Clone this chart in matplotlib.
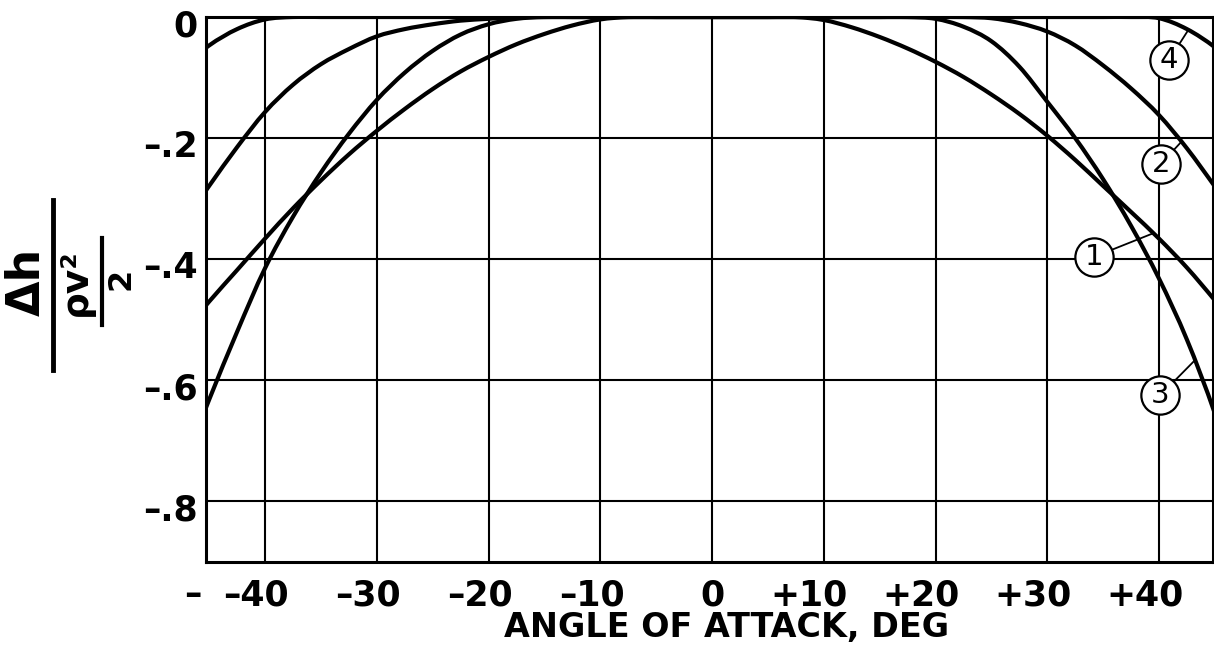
import matplotlib
matplotlib.use("Agg")
import numpy as np
import matplotlib.pyplot as plt
import matplotlib.transforms as mtransforms
from matplotlib.lines import Line2D
from matplotlib.path import Path
from matplotlib.patches import PathPatch

# ---------------- data ----------------
ANGLE = [-47.5, -45, -42.5, -40, -37.5, -35, -32.5, -30, -27.5, -25, -22.5, -20,
         -17.5, -15, -12.5, -10, -7.5, -5, -2.5, 0, 2.5, 5, 7.5, 10, 12.5, 15,
         17.5, 20, 22.5, 25, 27.5, 30, 32.5, 35, 37.5, 40, 42.5, 45, 47.5]

CURVE_1 = [-0.525, -0.470, -0.418, -0.366, -0.316, -0.270, -0.227, -0.188, -0.152,
           -0.119, -0.090, -0.066, -0.045, -0.028, -0.014, -0.004, 0.0, 0.0, 0.0,
           0.0, 0.0, 0.0, 0.0, -0.005, -0.017, -0.033, -0.052, -0.074, -0.099,
           -0.128, -0.160, -0.196, -0.236, -0.279, -0.322, -0.366, -0.414, -0.468,
           -0.525]

CURVE_2 = [-0.345, -0.279, -0.215, -0.157, -0.112, -0.078, -0.053, -0.032, -0.020,
           -0.012, -0.006, -0.003, 0.0, 0.0, 0.0, 0.0, 0.0, 0.0, 0.0, 0.0, 0.0,
           0.0, 0.0, 0.0, 0.0, 0.0, 0.0, 0.0, 0.0, -0.002, -0.010, -0.024, -0.047,
           -0.080, -0.118, -0.162, -0.217, -0.280, -0.345]

CURVE_3 = [-0.750, -0.632, -0.520, -0.415, -0.330, -0.257, -0.193, -0.137, -0.092,
           -0.056, -0.029, -0.012, -0.003, 0.0, 0.0, 0.0, 0.0, 0.0, 0.0, 0.0, 0.0,
           0.0, 0.0, 0.0, 0.0, 0.0, 0.0, -0.003, -0.016, -0.040, -0.082, -0.140,
           -0.200, -0.268, -0.345, -0.432, -0.533, -0.655, -0.800]

CURVE_4 = [-0.085, -0.047, -0.020, -0.004, 0.0, 0.0, 0.0, 0.0, 0.0, 0.0, 0.0, 0.0,
           0.0, 0.0, 0.0, 0.0, 0.0, 0.0, 0.0, 0.0, 0.0, 0.0, 0.0, 0.0, 0.0, 0.0,
           0.0, 0.0, 0.0, 0.0, 0.0, 0.0, 0.0, 0.0, 0.0, -0.002, -0.020, -0.050,
           -0.090]

CURVE_LABELS = ["1", "2", "3", "4"]

XTICKS = [-40, -30, -20, -10, 0, 10, 20, 30, 40]
XTICK_LABELS = ["\u201340", "\u201330", "\u201320", "\u201310", "0",
                "+10", "+20", "+30", "+40"]
YTICKS = [0, -0.2, -0.4, -0.6, -0.8]
YTICK_LABELS = ["0", "\u2013.2", "\u2013.4", "\u2013.6", "\u2013.8"]

XLABEL = "ANGLE OF ATTACK, DEG"


def smooth_path(xs, ys):
    """Smooth (Catmull-Rom -> cubic Bezier) path through the data points."""
    p = np.column_stack([xs, ys]).astype(float)
    ext = np.vstack([p[0], p, p[-1]])
    verts = [p[0]]
    codes = [Path.MOVETO]
    for i in range(len(p) - 1):
        p0, p1, p2, p3 = ext[i], ext[i + 1], ext[i + 2], ext[i + 3]
        c1 = p1 + (p2 - p0) / 6.0
        c2 = p2 - (p3 - p1) / 6.0
        verts += [c1, c2, p2]
        codes += [Path.CURVE4] * 3
    return Path(np.array(verts), codes)


# ---------------- figure ----------------
W, H = 1214, 657
fig = plt.figure(figsize=(W / 100, H / 100), dpi=100)
ax = fig.add_axes([206 / W, 1 - 562 / H, (1213 - 206) / W, (562 - 17) / H])
ax.set_xlim(-45.28, 44.83)
ax.set_ylim(-0.90, 0.0)

ax.set_xticks(XTICKS)
ax.set_yticks(YTICKS)
ax.set_yticklabels(YTICK_LABELS, fontsize=25, fontweight="bold")
ax.tick_params(length=0, labelbottom=False, pad=6)
for lbl in ax.get_yticklabels():
    lbl.set_transform(lbl.get_transform() +
                      mtransforms.ScaledTranslation(0, -4 / 72, fig.dpi_scale_trans))
ax.grid(True, color="black", lw=1.5)
ax.set_axisbelow(True)
for sp in ax.spines.values():
    sp.set_linewidth(2.2)

for vals in (CURVE_1, CURVE_2, CURVE_3, CURVE_4):
    patch = PathPatch(smooth_path(ANGLE, vals), facecolor="none",
                      edgecolor="black", lw=3.0, zorder=3, joinstyle="round")
    ax.add_patch(patch)

# curve labels: (circle centre, leader end on curve)
label_pos = {
    "1": ((34.2, -0.396), (39.5, -0.357)),
    "2": ((40.15, -0.243), (42.0, -0.206)),
    "3": ((40.1, -0.625), (43.2, -0.567)),
    "4": ((40.9, -0.071), (42.6, -0.022)),
}
for name in CURVE_LABELS:
    (cx, cy), (ex, ey) = label_pos[name]
    ax.plot([cx, ex], [cy, ey], color="black", lw=1.3, zorder=4)
    ax.scatter([cx], [cy], s=760, facecolor="white", edgecolor="black",
               linewidth=1.6, zorder=5)
    ax.text(cx, cy, name, ha="center", va="center", fontsize=21, zorder=6)

# x tick labels: digits centred on the grid line, sign sticking out to the left
xt = ax.get_xaxis_transform()
for v, s in zip(XTICKS, XTICK_LABELS):
    digits = s.lstrip("\u2013+")
    half = len(digits) * 0.696 * 25 / 2
    ax.text(v, 0, s, ha="right", va="top", fontsize=25, fontweight="bold",
            transform=xt + mtransforms.ScaledTranslation(half / 72, -12.0 / 72,
                                                          fig.dpi_scale_trans))
# stray dash at the far left of the x labels
fig.text(193 / W, 1 - 578 / H, "\u2013", ha="center", va="top", fontsize=25,
         fontweight="bold")

fig.text(727 / W, 1 - 628 / H, XLABEL, ha="center", va="center",
         fontsize=24, fontweight="bold")

# y label: delta h over (rho v^2 / 2), drawn rotated
fig.text(27.5 / W, 1 - 282 / H, "\u0394h", rotation=90, ha="center", va="center",
         fontsize=33, fontweight="bold")
fig.add_artist(Line2D([53 / W, 53 / W], [1 - 200 / H, 1 - 370 / H],
                      lw=3.5, color="black"))
fig.text(76 / W, 1 - 282 / H, "\u03c1v\u00b2", rotation=90, ha="center",
         va="center", fontsize=27, fontweight="bold")
fig.add_artist(Line2D([102 / W, 102 / W], [1 - 238 / H, 1 - 325 / H],
                      lw=3.0, color="black"))
fig.text(121.5 / W, 1 - 278.5 / H, "2", rotation=90, ha="center", va="center",
         fontsize=23, fontweight="bold")

fig.savefig("out.png", dpi=100)
